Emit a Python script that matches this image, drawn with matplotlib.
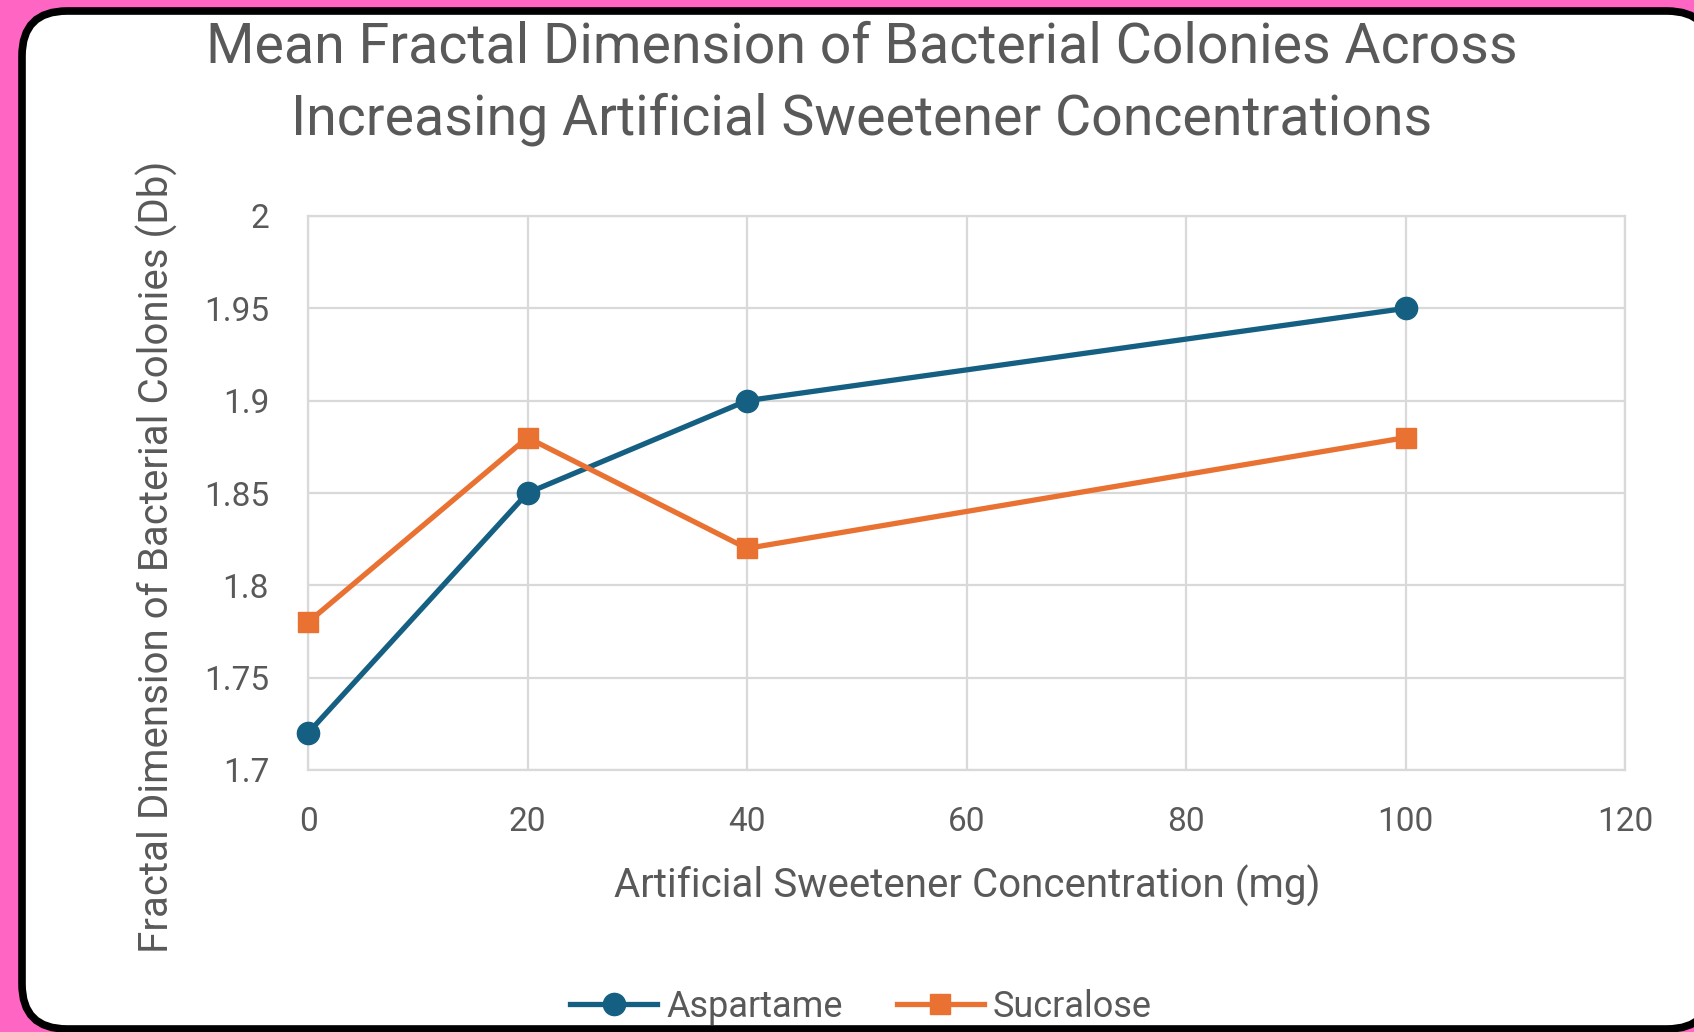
import matplotlib
matplotlib.use('Agg')
import matplotlib.pyplot as plt
from matplotlib.patches import FancyBboxPatch

# data
concentration = [0, 20, 40, 100]
aspartame = [1.72, 1.85, 1.90, 1.95]
sucralose = [1.78, 1.88, 1.82, 1.88]
x_ticks = [0, 20, 40, 60, 80, 100, 120]
y_ticks = [1.7, 1.75, 1.8, 1.85, 1.9, 1.95, 2.0]
y_tick_labels = ['1.7', '1.75', '1.8', '1.85', '1.9', '1.95', '2']

plt.rcParams['font.family'] = ['Roboto', 'DejaVu Sans']
text_color = '#595959'
grid_color = '#D9D9D9'
blue = '#156082'
orange = '#E97132'

W, H = 1694, 1032
fig = plt.figure(figsize=(W / 100, H / 100), dpi=100)
fig.patch.set_facecolor('#FF66C4')

# rounded white card with black border
bg = fig.add_axes([0, 0, 1, 1], zorder=-1)
bg.set_xlim(0, W)
bg.set_ylim(H, 0)
bg.axis('off')
card = FancyBboxPatch((22, 11), 1690, 1018, boxstyle='round,pad=0,rounding_size=45',
                      fc='white', ec='black', lw=5.5, clip_on=False)
bg.add_patch(card)

ax = fig.add_axes([308 / W, 1 - 770 / H, 1317 / W, 554 / H])
ax.set_facecolor('none')
ax.plot(concentration, aspartame, color=blue, lw=3.8, marker='o', markersize=16,
        label='Aspartame', zorder=3, clip_on=False)
ax.plot(concentration, sucralose, color=orange, lw=3.8, marker='s', markersize=15,
        label='Sucralose', zorder=3, clip_on=False)

ax.set_xlim(0, 120)
ax.set_ylim(1.7, 2.0)
ax.set_xticks(x_ticks)
ax.set_yticks(y_ticks)
ax.set_yticklabels(y_tick_labels)
ax.grid(True, color=grid_color, lw=1.6)
ax.set_axisbelow(True)
for s in ax.spines.values():
  s.set_color(grid_color)
  s.set_linewidth(1.6)
ax.tick_params(axis='both', length=0, labelsize=24, labelcolor=text_color)
ax.tick_params(axis='y', pad=28)
ax.tick_params(axis='x', pad=26)

fig.text(862 / W, 1 - 83 / H,
         'Mean Fractal Dimension of Bacterial Colonies Across\nIncreasing Artificial Sweetener Concentrations',
         ha='center', va='center', fontsize=40, color=text_color, linespacing=1.45)
fig.text(967 / W, 1 - 886 / H, 'Artificial Sweetener Concentration (mg)',
         ha='center', va='center', fontsize=29, color=text_color)
fig.text(157 / W, 1 - 557 / H, 'Fractal Dimension of Bacterial Colonies (Db)',
         ha='center', va='center', rotation=90, fontsize=29, color=text_color)

leg = fig.legend(loc='center', bbox_to_anchor=(861 / W, 1 - 1007 / H), ncol=2, frameon=False,
                 fontsize=26, handlelength=2.4, handletextpad=0.25, columnspacing=1.5)
for t in leg.get_texts():
  t.set_color(text_color)

fig.savefig('out.png', dpi=100, facecolor=fig.get_facecolor())
